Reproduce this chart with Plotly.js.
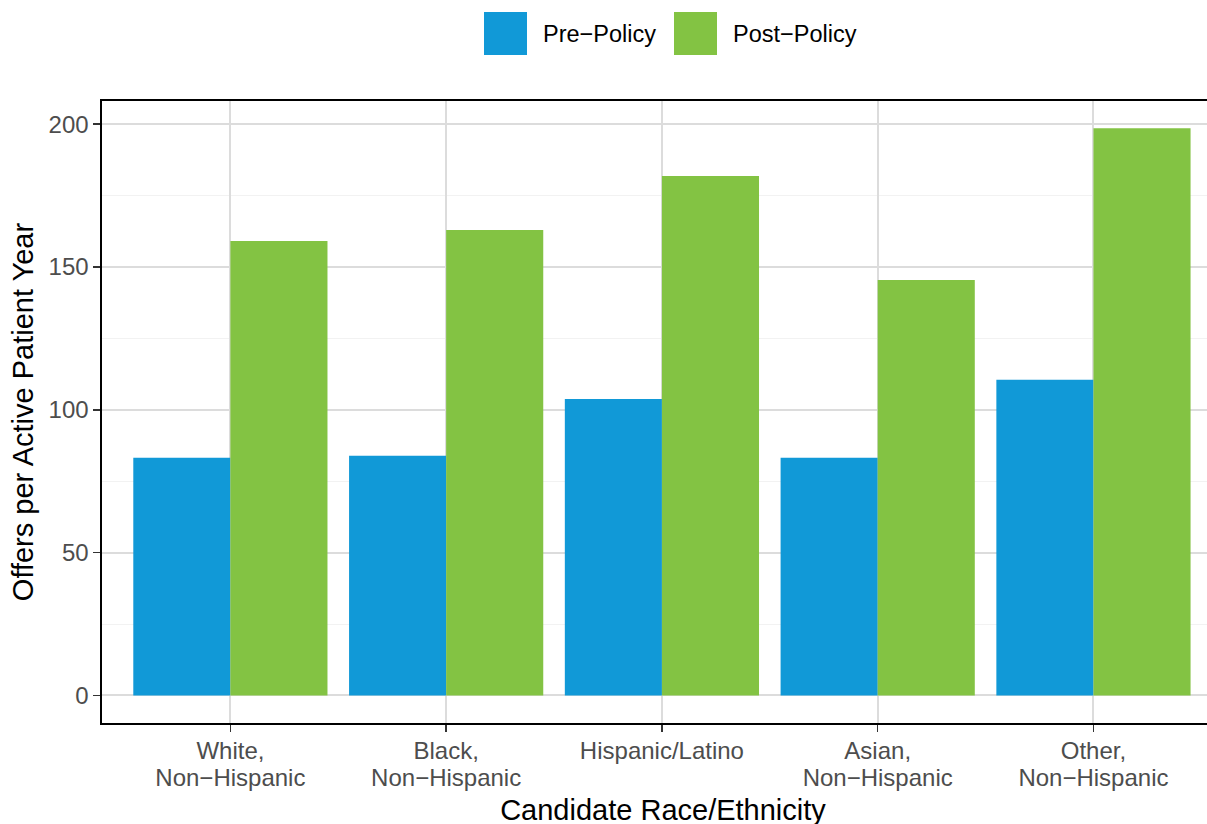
<!DOCTYPE html>
<html>
<head>
<meta charset="utf-8">
<script src="https://cdn.plot.ly/plotly-3.0.1.min.js"></script>
<style>
  html, body { margin: 0; padding: 0; width: 1207px; height: 824px; overflow: hidden; background: #fff; }
  #chart { width: 1240px; height: 850px; }
</style>
</head>
<body>
<div id="chart"></div>
<script>
// ---- data ----
const categories = ["White, Non-Hispanic", "Black, Non-Hispanic", "Hispanic/Latino", "Asian, Non-Hispanic", "Other, Non-Hispanic"];
const tickLines = [["White,", "Non\u2212Hispanic"], ["Black,", "Non\u2212Hispanic"], ["Hispanic/Latino"], ["Asian,", "Non\u2212Hispanic"], ["Other,", "Non\u2212Hispanic"]];
const prePolicy = [83.2, 83.9, 103.8, 83.2, 110.5];
const postPolicy = [159.1, 162.9, 181.8, 145.4, 198.6];
const seriesNames = ["Pre\u2212Policy", "Post\u2212Policy"];
const yTicks = [0, 50, 100, 150, 200];

// ---- style ----
const colPre = "#1199d7";
const colPost = "#83c343";
const FONT = "Liberation Sans, Arial, Helvetica, sans-serif";
// somewhat tight line spacing: base size sets spacing, glyphs drawn larger via span
const tickText = tickLines.map(lines => lines.map(s => "<span style='font-size:24px'>" + s + "</span>").join("<br>"));

const traces = [
  { type: "bar", name: seriesNames[0], x: categories, y: prePolicy, marker: { color: colPre }, showlegend: false, hoverinfo: "x+y+name" },
  { type: "bar", name: seriesNames[1], x: categories, y: postPolicy, marker: { color: colPost }, showlegend: false, hoverinfo: "x+y+name" }
];

const L = 102, W = 1240, H = 850, T = 101, B = 127;
const plotW = W - L - 16, plotH = H - T - B;
const px = v => (v - L) / plotW;
const py = v => (H - B - v) / plotH;

const layout = {
  width: W, height: H,
  margin: { l: L, r: 16, t: T, b: B, pad: 0 },
  paper_bgcolor: "#fff", plot_bgcolor: "#fff",
  font: { family: FONT, color: "#000" },
  barmode: "group", bargap: 0.1, bargroupgap: 0,
  xaxis: {
    type: "category",
    range: [-0.595, 4.605],
    tickvals: categories, ticktext: tickText,
    showgrid: true, gridcolor: "#dcdcdc", gridwidth: 2,
    ticks: "outside", ticklen: 7, tickwidth: 1.6, tickcolor: "#333",
    showline: true, linecolor: "#000", linewidth: 1.6, mirror: true,
    tickfont: { family: FONT, size: 21, color: "#4d4d4d" },
    ticklabelstandoff: 2,
    title: { text: "Candidate Race/Ethnicity", font: { family: FONT, size: 29, color: "#000" }, standoff: 9 },
    automargin: false, fixedrange: true
  },
  yaxis: {
    range: [-9.66, 208.1],
    tickvals: yTicks, ticktext: yTicks.map(String),
    showgrid: true, gridcolor: "#dcdcdc", gridwidth: 2,
    zeroline: false,
    minor: { dtick: 25, tick0: 0, showgrid: true, gridcolor: "#f2f2f2", gridwidth: 1 },
    ticks: "outside", ticklen: 7, tickwidth: 1.6, tickcolor: "#333",
    showline: true, linecolor: "#000", linewidth: 1.6, mirror: true,
    tickfont: { family: FONT, size: 24, color: "#4d4d4d" },
    title: { text: "Offers per Active Patient Year", font: { family: FONT, size: 29, color: "#000" }, standoff: 6 },
    automargin: false, fixedrange: true
  },
  shapes: [
    { type: "rect", xref: "paper", yref: "paper", x0: px(484), x1: px(527), y0: py(55), y1: py(12), fillcolor: colPre, line: { width: 0 } },
    { type: "rect", xref: "paper", yref: "paper", x0: px(674), x1: px(717), y0: py(55), y1: py(12), fillcolor: colPost, line: { width: 0 } }
  ],
  annotations: [
    { xref: "paper", yref: "paper", x: px(541), y: py(34), xanchor: "left", yanchor: "middle", text: seriesNames[0], showarrow: false, font: { family: FONT, size: 23.5, color: "#000" } },
    { xref: "paper", yref: "paper", x: px(731), y: py(34), xanchor: "left", yanchor: "middle", text: seriesNames[1], showarrow: false, font: { family: FONT, size: 23.5, color: "#000" } }
  ],
  showlegend: false
};

Plotly.newPlot("chart", traces, layout, { displayModeBar: false, staticPlot: true });
</script>
</body>
</html>
